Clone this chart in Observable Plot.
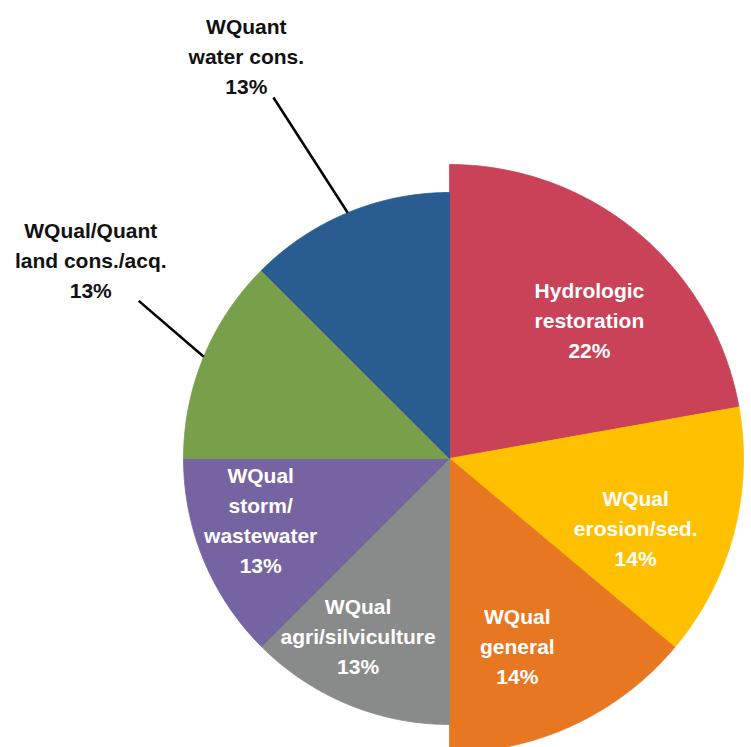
<!DOCTYPE html>
<html>
<head>
<meta charset="utf-8">
<script src="https://cdn.jsdelivr.net/npm/d3@7"></script>
<script src="https://cdn.jsdelivr.net/npm/@observablehq/plot@0.6"></script>
<style>
  html, body { margin: 0; padding: 0; background: #fff; }
  #chart svg { display: block; }
</style>
</head>
<body>
<div id="chart"></div>
<script>
// ---- data ----
const names = [
  "Hydrologic restoration",
  "WQual erosion/sed.",
  "WQual general",
  "WQual agri/silviculture",
  "WQual storm/wastewater",
  "WQual/Quant land cons./acq.",
  "WQuant water cons."
];
const labelLines = [
  ["Hydrologic", "restoration"],
  ["WQual", "erosion/sed."],
  ["WQual", "general"],
  ["WQual", "agri/silviculture"],
  ["WQual", "storm/", "wastewater"],
  ["WQual/Quant", "land cons./acq."],
  ["WQuant", "water cons."]
];
const shares = [22.2, 13.9, 13.9, 12.5, 12.5, 12.5, 12.5];
const pctLabels = ["22%", "14%", "14%", "13%", "13%", "13%", "13%"];
const colors = ["#C94258", "#FFC000", "#E87722", "#888B8A", "#7664A2", "#78A04A", "#295C90"];

// ---- layout ----
const W = 751, H = 747;
const CX = 449, CY = 458;          // pie centre in pixels
const R_RIGHT = 294, R_LEFT = 266; // right half drawn larger, as in the reference
const INSIDE_R = 198, INSIDE_SHIFT = 5;
// outside labels: [labelAngleOffset, labelRadiusFactor, leaderAngleOffset, leaderRadiusFactor]
const outside = {
  5: [6.7, 1.545, 4.4, 1.31],
  6: [-4.2, 1.70, -3.5, 1.51]
};

const total = d3.sum(shares);
let acc = 0;
const slices = shares.map((v, i) => {
  const a0 = acc / total * 360;
  acc += v;
  const a1 = acc / total * 360;
  const r = a0 < 180 ? R_RIGHT : R_LEFT;
  return {i, name: names[i], a0, a1, mid: (a0 + a1) / 2, r};
});
const polar = (deg, r) => {
  const t = deg * Math.PI / 180;
  return [r * Math.sin(t), -r * Math.cos(t)];
};

// polygon vertices of each slice
const poly = [];
for (const s of slices) {
  poly.push({name: s.name, x: 0, y: 0});
  const n = Math.ceil((s.a1 - s.a0) / 0.5);
  for (let k = 0; k <= n; k++) {
    const [x, y] = polar(s.a0 + (s.a1 - s.a0) * k / n, s.r);
    poly.push({name: s.name, x, y});
  }
  poly.push({name: s.name, x: 0, y: 0});
}

const insideLabels = [], outsideLabels = [], leaders = [];
for (const s of slices) {
  const text = [...labelLines[s.i], pctLabels[s.i]].join("\n");
  if (outside[s.i]) {
    const [la, lr, ea, er] = outside[s.i];
    const [lx, ly] = polar(s.mid + la, s.r * lr);
    outsideLabels.push({x: lx, y: ly, text});
    const [x1, y1] = polar(s.mid, s.r);
    const [x2, y2] = polar(s.mid + ea, s.r * er);
    leaders.push({x1, y1, x2, y2});
  } else {
    const [x, y] = polar(s.mid + INSIDE_SHIFT, INSIDE_R);
    insideLabels.push({x, y, text});
  }
}

const font = "'Liberation Sans', Arial, Helvetica, sans-serif";
const chart = Plot.plot({
  width: W,
  height: H,
  margin: 0,
  x: {domain: [-CX, W - CX], range: [0, W], axis: null},
  y: {domain: [-CY, H - CY], range: [0, H], axis: null},
  color: {domain: names, range: colors},
  style: {background: "#fff", fontFamily: font},
  marks: [
    Plot.line(poly, {x: "x", y: "y", z: "name", fill: "name", stroke: "name", strokeWidth: 0.8, curve: "linear"}),
    Plot.link(leaders, {x1: "x1", y1: "y1", x2: "x2", y2: "y2", stroke: "#000", strokeWidth: 2.5}),
    Plot.text(insideLabels, {x: "x", y: "y", text: "text", fill: "#fff", fontSize: 21, fontWeight: "bold", lineHeight: 1.43, lineAnchor: "middle", textAnchor: "middle"}),
    Plot.text(outsideLabels, {x: "x", y: "y", text: "text", fill: "#111", fontSize: 21, fontWeight: "bold", lineHeight: 1.43, lineAnchor: "middle", textAnchor: "middle"})
  ]
});
document.getElementById("chart").appendChild(chart);
</script>
</body>
</html>
